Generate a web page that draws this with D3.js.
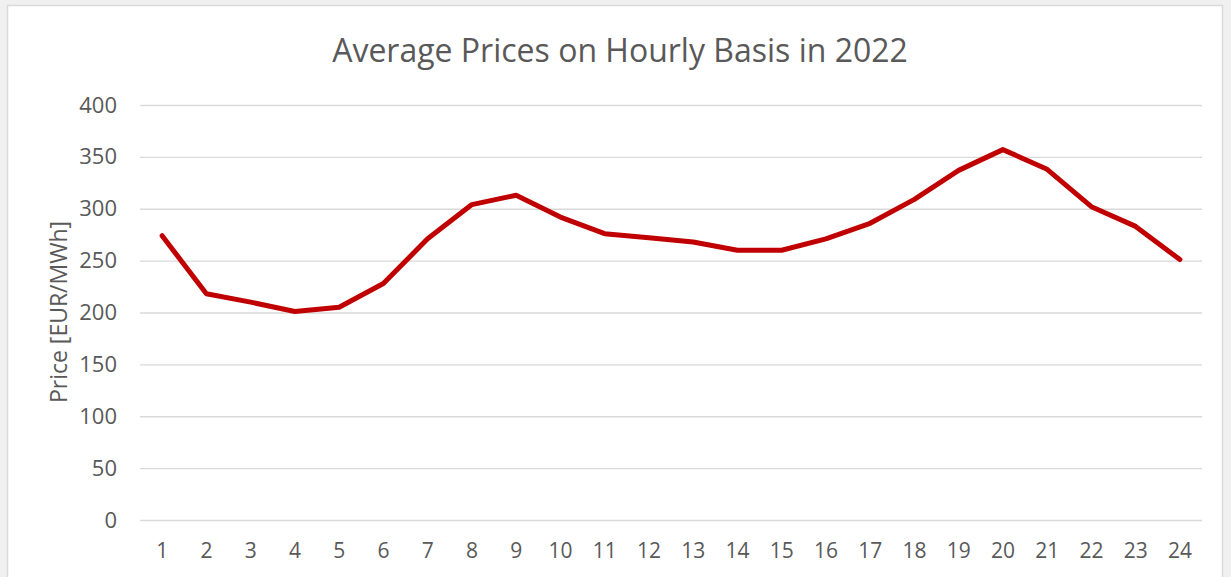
<!DOCTYPE html>
<html><head><meta charset="utf-8">
<script src="https://cdn.jsdelivr.net/npm/d3@7"></script>
<style>html,body{margin:0;padding:0;background:#f0f0f0;}svg{display:block;}</style>
</head><body>
<svg id="c" width="1231" height="577"></svg>
<script>
const hours = ["1","2","3","4","5","6","7","8","9","10","11","12","13","14","15","16","17","18","19","20","21","22","23","24"];
const prices = [274,218,210,201,205,228,271,304,313,292,276,272,268,260,260,271,286,309,337,357,338,302,283,251];
const yTicks = [0,50,100,150,200,250,300,350,400];
const title = "Average Prices on Hourly Basis in 2022";
const yLabel = "Price [EUR/MWh]";

(function(){
const svg = d3.select("#c");
const pL = 140, pR = 1202, pT = 105, pB = 520;
const font = "'Open Sans', 'Noto Sans', sans-serif";
const grey = "#595959";

svg.append("rect").attr("x",0).attr("y",0).attr("width",1231).attr("height",577).attr("fill","#f0f0f0");
svg.append("rect").attr("x",7.5).attr("y",5.5).attr("width",1215).attr("height",600)
  .attr("fill","#fff").attr("stroke","#d9d9d9").attr("stroke-width",1.5);

const x = d3.scaleBand().domain(hours).range([pL,pR]);
const y = d3.scaleLinear().domain([0,400]).range([pB,pT]);

const gy = svg.append("g").attr("transform",`translate(${pL},0)`)
  .call(d3.axisLeft(y).tickValues(yTicks).tickSize(-(pR-pL)).tickPadding(23));
gy.select(".domain").remove();
gy.selectAll(".tick line").attr("stroke","#d9d9d9").attr("stroke-width",1.3);
gy.selectAll(".tick text").attr("fill",grey).attr("font-family",font).attr("font-size",22);

const gx = svg.append("g").attr("transform",`translate(0,${pB})`)
  .call(d3.axisBottom(x).tickSize(0).tickPadding(23));
gx.select(".domain").remove();
gx.selectAll(".tick text").attr("fill",grey).attr("font-family",font).attr("font-size",21);

const line = d3.line().x((d,i)=>x(hours[i])+x.bandwidth()/2).y(d=>y(d));
svg.append("path").datum(prices).attr("d",line).attr("fill","none")
  .attr("stroke","#c00000").attr("stroke-width",5).attr("stroke-linejoin","round").attr("stroke-linecap","round");

svg.append("text").attr("x",620).attr("y",62).attr("text-anchor","middle")
  .attr("fill",grey).attr("font-family",font).attr("font-size",32).text(title);

svg.append("text").attr("transform",`translate(67,312) rotate(-90)`).attr("text-anchor","middle")
  .attr("fill",grey).attr("font-family",font).attr("font-size",23).text(yLabel);
})();
</script>
</body></html>
